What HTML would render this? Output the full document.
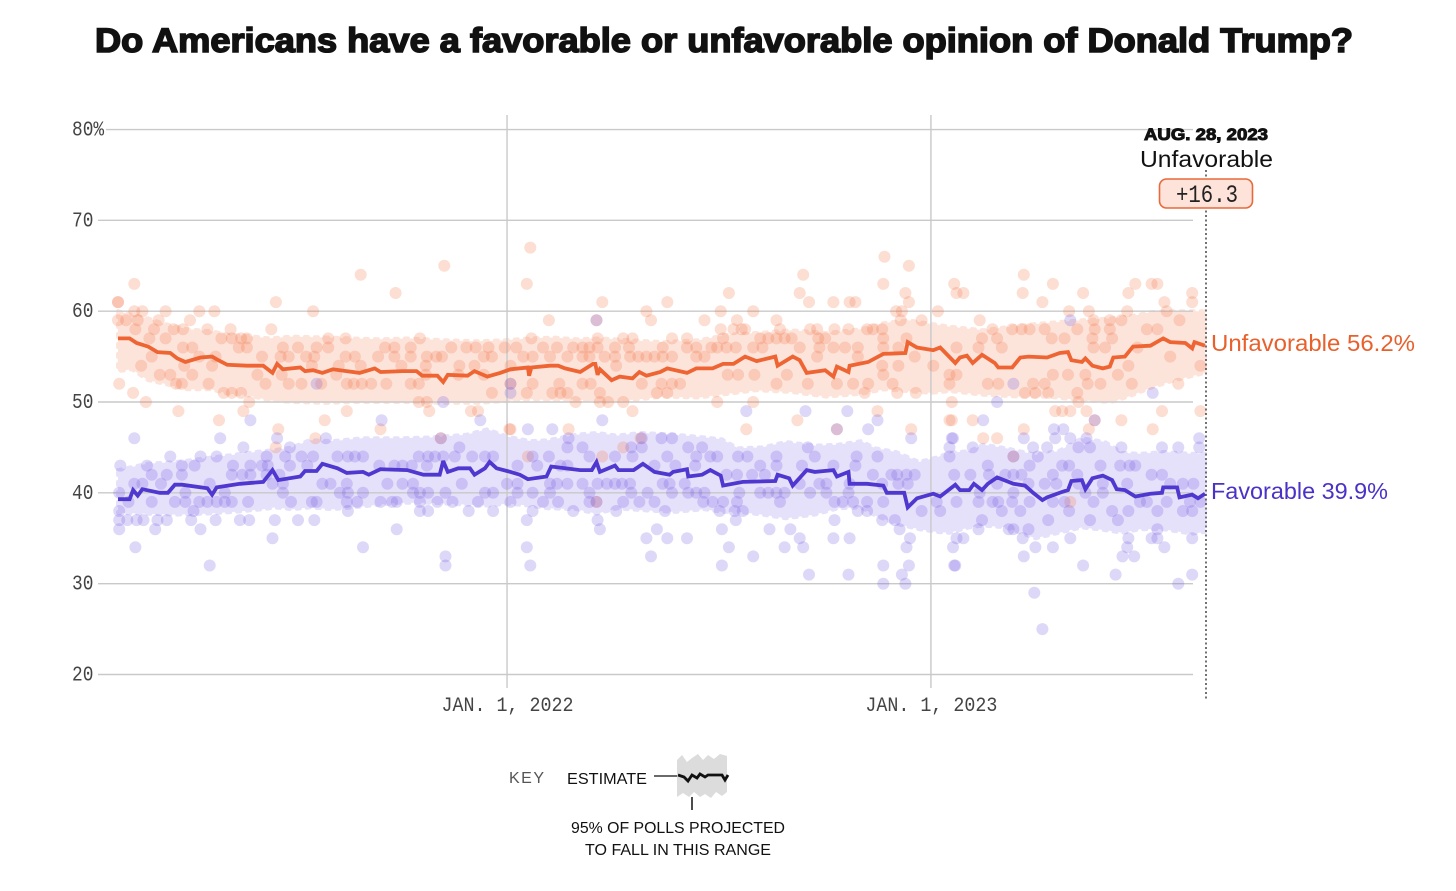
<!DOCTYPE html>
<html lang="en">
<head>
<meta charset="utf-8">
<title>Trump favorability chart</title>
<style>
html,body{margin:0;padding:0;background:#fff;}
#chart{display:block;width:1456px;height:891px;}
text{font-family:"Liberation Sans",sans-serif;}
.mono{font-family:"Liberation Mono",monospace;fill:#444;}
</style>
</head>
<body>
<svg id="chart" xmlns="http://www.w3.org/2000/svg" width="1456" height="891" viewBox="0 0 1456 891">
  <text x="95" y="52" font-size="34.5" font-weight="700" fill="#111" stroke="#111" stroke-width="1.6" textLength="1258" lengthAdjust="spacingAndGlyphs">Do Americans have a favorable or unfavorable opinion of Donald Trump?</text>
  <g id="bands"></g>
  <g id="grid"></g>
  <g id="dots"></g>
  <g id="lines"></g>
  <g id="axes"></g>

  <line x1="1206" y1="170" x2="1206" y2="700" stroke="#444" stroke-width="1.5" stroke-dasharray="2 2.5"/>
  <text x="1144" y="140" font-size="17" font-weight="700" fill="#111" stroke="#111" stroke-width="1" textLength="124" lengthAdjust="spacingAndGlyphs" paint-order="stroke">AUG. 28, 2023</text>
  <text x="1140" y="167" font-size="23" fill="#111" textLength="133" lengthAdjust="spacingAndGlyphs">Unfavorable</text>
  <rect x="1159.5" y="179" width="93" height="29" rx="7" fill="#fde3da" stroke="#e8693a" stroke-width="1.6"/>
  <text class="mono" x="1176" y="202" font-size="25" style="fill:#222" textLength="62" lengthAdjust="spacingAndGlyphs">+16.3</text>
  <text x="1211" y="351" font-size="23" fill="#e8602c" textLength="204" lengthAdjust="spacingAndGlyphs">Unfavorable 56.2%</text>
  <text x="1211" y="499" font-size="23" fill="#4a32c8" textLength="177" lengthAdjust="spacingAndGlyphs">Favorable 39.9%</text>

  <g>
    <text x="509" y="783" font-size="16" fill="#555" textLength="35" lengthAdjust="spacing">KEY</text>
    <text x="567" y="784" font-size="16" fill="#111" textLength="80" lengthAdjust="spacingAndGlyphs">ESTIMATE</text>
    <line x1="654" y1="776" x2="678" y2="776" stroke="#111" stroke-width="1.3"/>
    <polygon fill="#dcdcdc" points="677,760 682,755 687,762 692,758 698,754 703,760 708,755 714,759 720,754 727,756 727,792 722,796 716,792 711,798 705,794 700,797 694,792 689,797 683,793 677,797"/>
    <polyline fill="none" stroke="#111" stroke-width="2.8" points="678,775 684,777 688,781 692,775 697,778 700,774 705,777 708,775 722,775 725,780 728,775"/>
    <line x1="692" y1="797" x2="692" y2="810" stroke="#111" stroke-width="1.5"/>
    <text x="571" y="833" font-size="16" fill="#111" textLength="214" lengthAdjust="spacingAndGlyphs">95% OF POLLS PROJECTED</text>
    <text x="585" y="855" font-size="16" fill="#111" textLength="186" lengthAdjust="spacingAndGlyphs">TO FALL IN THIS RANGE</text>
  </g>
</svg>

<script>
// Days are counted from the first day of the series (about Feb. 1, 2021).
const yTickValues = [20, 30, 40, 50, 60, 70, 80];
const yTickLabels = ["20", "30", "40", "50", "60", "70", "80%"];
const xTickDays = [335, 700];
const xTickLabels = ["JAN. 1, 2022", "JAN. 1, 2023"];

const unfavLineDays = [0,10,16,26,34,45,51,58,71,81,85,94,111,125,133,137,142,157,161,168,176,185,208,221,226,245,257,262,275,280,284,301,307,318,329,338,353,354,356,372,379,385,398,409,411,413,415,425,432,443,449,455,467,473,490,498,512,521,530,540,550,566,568,581,587,593,609,616,619,629,630,646,659,678,680,688,702,708,721,725,731,736,744,755,758,770,777,784,800,811,818,821,830,833,839,848,854,857,867,874,889,900,906,919,925,927,936];
const unfavLineValues = [57,57,56.5,56.1,55.5,55.4,54.8,54.4,54.9,55,54.7,54.1,54,54,53.2,54.2,53.6,53.8,53.4,53.5,53.2,53.6,53.2,53.7,53.3,53.4,53.4,52.9,52.9,52.2,53,52.9,53.4,52.8,53.2,53.6,53.8,52.9,53.8,54,54,53.7,53.3,54.2,54.2,53,53.6,52.4,52.8,52.6,53.3,52.9,53.3,53.7,53.2,53.7,53.7,54.2,54.2,55,54.5,55,54,55,54.6,53.2,53.5,52.8,53.9,53.3,54,54.4,55.3,55.4,56.6,56,55.7,56,54.3,54.9,55.1,54.3,55.2,54.3,53.8,53.8,54.9,55,54.9,55.4,55.5,54.6,54.4,54.8,54,53.7,53.9,54.9,55,56.1,56.2,57,56.6,56.5,55.9,56.6,56.2];

const favLineDays = [0,10,13,17,21,36,43,49,55,77,81,85,105,125,133,138,157,161,171,176,189,197,211,216,226,249,263,277,280,284,293,303,307,316,320,326,338,346,353,369,373,398,408,412,415,428,431,444,452,462,475,478,490,491,503,510,519,521,538,566,568,578,581,593,600,616,619,629,630,645,659,662,677,680,688,702,708,721,725,733,737,744,749,757,771,781,788,796,800,813,818,821,830,833,839,848,856,860,867,876,889,899,900,912,914,925,930,936];
const favLineValues = [39.3,39.3,40.3,39.7,40.4,40,40,40.9,40.9,40.5,39.8,40.6,41,41.2,42.5,41.4,41.8,42.4,42.4,43.2,42.7,42.2,42.3,42,42.6,42.5,42,42,43.5,42.3,42.7,42.7,42,42.7,43.4,42.7,42.3,42,41.5,41.8,42.9,42.5,42.5,43.4,42.3,43,42.5,42.5,43.2,42.3,42,42.3,42.6,41.8,42,42.5,41.9,40.8,41.2,41.3,42,41.6,40.8,42.5,42.3,42.5,41.8,42.3,41,41,40.8,40,40,38.4,39.4,39.9,39.6,40.9,40.3,40.3,41,40.3,41,41.7,41,40.8,40,39.2,39.5,40.1,40.3,41.3,41.4,40.4,41.6,41.9,41.4,40.4,40.3,39.6,39.9,40,40.6,40.6,39.5,39.8,39.4,39.9];

const unfavBandDays = [0,12,26,40,60,80,95,110,130,150,180,200,225,250,280,310,333,355,375,395,415,440,470,500,525,550,580,610,640,660,680,700,716,745,775,800,830,855,870,890,910,936];
const unfavBandUpper = [60,59.6,59.2,58.6,58,57.8,57.4,57.3,57,57.2,57.1,57,56.9,57,56.8,56.7,56.8,57,57.1,56.9,57,56.8,56.6,56.8,57.4,57.6,57.9,57.6,58,58.7,59,58.6,58.3,57.9,58.4,58.7,59,59.2,59.4,59.9,60,60];
const unfavBandLower = [53.4,53.6,52.4,52,51.4,51.4,50.9,50.8,50.2,50,49.9,50,50,50,49.9,49.9,50.1,50.3,50.2,50.3,50,50.2,50.6,50.5,50.9,51.3,51.1,50.6,50.9,51.4,51.2,51,51.2,50.8,50.6,50.6,50.2,50,50.6,51.6,52.4,53.2];

const favBandDays = [0,25,50,75,100,125,135,150,165,185,210,240,270,300,318,335,355,370,395,412,430,450,480,505,520,534,555,575,600,620,640,652,670,690,705,716,733,745,765,790,810,830,850,865,880,900,925,936];
const favBandUpper = [42.5,43.2,43.4,43.8,44.2,44.6,44.7,45,45.8,45.7,46,46,46.1,46.4,47,46.2,45.7,45.8,46.4,46.6,46.3,46.6,46.4,46.1,45.9,44.9,45,45.6,45.2,45.3,45.7,44.9,44.5,43.4,43.9,44.4,44.6,45.3,44.9,44.2,44.6,46,45.6,44.4,44.3,44.5,44.3,44.3];
const favBandLower = [37.8,37.7,37.6,37.7,37.9,38.2,38.4,38.2,38.4,38.2,38.5,38.9,38.9,38.7,38.6,38.8,38.6,38.3,38.2,37.7,38.3,38.1,37.9,38.2,37.9,37.9,37.6,37.2,37.6,38.3,38.4,37.5,36.6,36,35.7,35.6,36.2,36.4,36.2,35,35.6,36.2,35.9,35.6,36,36,35.5,35.7];

const unfavPollDays = [
355,
660,
281,681,
209,590,780,
14,352,659,720,805,876,890,895,
239,526,587,678,722,728,779,831,870,925,
0,0,136,417,473,595,616,630,635,681,796,901,925,
14,21,41,70,83,168,455,519,547,670,675,706,819,836,869,903,
0,7,17,35,62,371,412,459,505,533,567,674,692,742,840,854,864,914,
15,31,48,56,77,97,132,519,530,537,540,570,596,602,617,629,645,650,658,753,770,778,785,798,826,841,854,886,895,
27,41,89,98,106,111,181,196,260,356,413,435,443,477,490,521,553,560,567,574,580,603,609,659,679,744,757,804,815,839,856,
56,64,104,111,142,155,171,181,230,238,252,287,300,308,319,333,343,366,378,392,400,406,413,428,440,469,490,498,511,516,524,532,547,555,587,604,616,626,637,659,672,722,741,761,840,850,878,
29,70,84,124,140,147,162,169,196,204,224,238,252,266,274,279,315,322,349,357,372,387,400,406,419,428,441,448,455,462,469,477,498,505,602,637,686,906,
20,57,81,167,190,209,244,265,294,307,338,429,658,672,702,870,932,
36,45,64,120,141,188,265,293,315,525,534,548,576,659,716,722,805,818,833,861,
1,50,55,78,127,147,158,175,197,203,210,218,231,252,259,338,357,380,400,407,451,468,477,484,567,594,619,633,646,667,716,749,758,788,798,835,846,873,913,
13,91,98,106,322,352,374,381,387,415,464,473,643,671,687,781,790,801,826,
24,113,259,266,394,415,422,435,516,547,718,827,
52,108,197,268,304,310,443,654,807,813,820,834,899,932,
87,178,585,716,736,718,841,864,
138,226,337,338,388,541,619,683,780,836,891,
170,278,450,745,757,
136,435,
353,417,771,
412,820
];
const unfavPollValues = [
67,
66,
65,65,
64,64,64,
63,63,63,63,63,63,63,63,
62,62,62,62,62,62,62,62,62,62,
61,61,61,61,61,61,61,61,61,61,61,61,61,
60,60,60,60,60,60,60,60,60,60,60,60,60,60,60,60,
59,59,59,59,59,59,59,59,59,59,59,59,59,59,59,59,59,59,
58,58,58,58,58,58,58,58,58,58,58,58,58,58,58,58,58,58,58,58,58,58,58,58,58,58,58,58,58,
57,57,57,57,57,57,57,57,57,57,57,57,57,57,57,57,57,57,57,57,57,57,57,57,57,57,57,57,57,57,57,
56,56,56,56,56,56,56,56,56,56,56,56,56,56,56,56,56,56,56,56,56,56,56,56,56,56,56,56,56,56,56,56,56,56,56,56,56,56,56,56,56,56,56,56,56,56,56,
55,55,55,55,55,55,55,55,55,55,55,55,55,55,55,55,55,55,55,55,55,55,55,55,55,55,55,55,55,55,55,55,55,55,55,55,55,55,
54,54,54,54,54,54,54,54,54,54,54,54,54,54,54,54,54,
53,53,53,53,53,53,53,53,53,53,53,53,53,53,53,53,53,53,53,53,
52,52,52,52,52,52,52,52,52,52,52,52,52,52,52,52,52,52,52,52,52,52,52,52,52,52,52,52,52,52,52,52,52,52,52,52,52,52,52,
51,51,51,51,51,51,51,51,51,51,51,51,51,51,51,51,51,51,51,
50,50,50,50,50,50,50,50,50,50,50,50,
49,49,49,49,49,49,49,49,49,49,49,49,49,49,
48,48,48,48,48,48,48,48,
47,47,47,47,47,47,47,47,47,47,47,
46,46,46,46,46,
45,45,
44,44,44,
39,39
];

const favPollDays = [
412,820,
171,338,771,
338,891,
280,757,
541,592,628,
114,227,312,417,654,745,841,
353,374,619,646,806,814,
14,88,137,179,278,388,451,468,477,683,718,719,780,807,820,834,931,
108,148,294,387,400,442,451,491,503,594,716,736,788,800,827,837,864,899,913,931,
45,71,85,128,144,158,168,189,198,204,211,259,267,273,280,290,305,316,323,357,371,406,428,443,473,498,510,516,534,542,567,600,636,654,716,771,792,
2,25,55,66,99,114,124,129,148,163,225,238,245,253,266,344,361,381,387,462,480,497,553,567,589,616,635,749,785,813,819,846,863,871,876,
29,42,55,98,107,114,128,139,524,533,546,557,650,666,671,679,686,720,734,750,764,771,778,805,826,890,899,
14,21,37,79,133,142,176,183,197,232,245,254,296,335,344,372,378,387,400,413,421,428,434,441,469,475,488,587,604,610,630,658,672,680,757,784,798,808,827,848,869,906,917,926,
1,58,92,142,191,198,211,254,260,267,282,316,323,344,357,372,406,442,456,477,491,498,505,535,553,560,567,574,596,610,629,742,771,833,848,
9,29,49,58,70,77,85,92,98,112,149,167,171,197,206,226,236,240,260,275,288,310,338,366,379,406,412,435,449,462,504,512,521,533,570,617,624,633,645,659,705,722,741,753,758,770,785,805,815,840,880,886,903,923,932,
1,65,198,260,267,302,323,357,392,429,471,518,531,538,637,645,692,708,761,777,819,856,870,895,917,925,
1,8,16,22,34,42,63,84,105,113,135,155,169,352,413,532,617,658,669,744,801,837,861,
1,32,71,240,415,464,520,561,579,673,741,767,771,784,895,
133,455,473,490,587,616,630,682,722,728,779,820,870,890,895,925,
15,211,352,526,574,590,679,719,790,805,869,901,
282,459,547,780,865,875,
79,282,355,520,659,681,720,721,831,
595,629,675,859,925,
659,678,913,
789,
796
];
const favPollValues = [
59,59,
52,52,52,
51,51,
50,50,
49,49,49,
48,48,48,48,48,48,48,
47,47,47,47,47,47,
46,46,46,46,46,46,46,46,46,46,46,46,46,46,46,46,46,
45,45,45,45,45,45,45,45,45,45,45,45,45,45,45,45,45,45,45,45,
44,44,44,44,44,44,44,44,44,44,44,44,44,44,44,44,44,44,44,44,44,44,44,44,44,44,44,44,44,44,44,44,44,44,44,44,44,
43,43,43,43,43,43,43,43,43,43,43,43,43,43,43,43,43,43,43,43,43,43,43,43,43,43,43,43,43,43,43,43,43,43,43,
42,42,42,42,42,42,42,42,42,42,42,42,42,42,42,42,42,42,42,42,42,42,42,42,42,42,42,
41,41,41,41,41,41,41,41,41,41,41,41,41,41,41,41,41,41,41,41,41,41,41,41,41,41,41,41,41,41,41,41,41,41,41,41,41,41,41,41,41,41,41,41,
40,40,40,40,40,40,40,40,40,40,40,40,40,40,40,40,40,40,40,40,40,40,40,40,40,40,40,40,40,40,40,40,40,40,40,
39,39,39,39,39,39,39,39,39,39,39,39,39,39,39,39,39,39,39,39,39,39,39,39,39,39,39,39,39,39,39,39,39,39,39,39,39,39,39,39,39,39,39,39,39,39,39,39,39,39,39,39,39,39,39,
38,38,38,38,38,38,38,38,38,38,38,38,38,38,38,38,38,38,38,38,38,38,38,38,38,38,
37,37,37,37,37,37,37,37,37,37,37,37,37,37,37,37,37,37,37,37,37,37,37,
36,36,36,36,36,36,36,36,36,36,36,36,36,36,36,
35,35,35,35,35,35,35,35,35,35,35,35,35,35,35,35,
34,34,34,34,34,34,34,34,34,34,34,34,
33,33,33,33,33,33,
32,32,32,32,32,32,32,32,32,
31,31,31,31,31,
30,30,30,
29,
25
];

const SVG_NS = "http://www.w3.org/2000/svg";
function xScale(day) { return 118 + day * (1205 - 118) / 936; }
function yScale(value) { return 674.5 - (value - 20) * 9.083; }
function make(tag, parent, props) {
  const el = document.createElementNS(SVG_NS, tag);
  for (const key in props) el.setAttribute(key, props[key]);
  parent.appendChild(el);
  return el;
}

const bandsGroup = document.getElementById("bands");
function drawBand(days, upper, lower, fill, name) {
  const top = days.map((d, i) => xScale(d).toFixed(1) + "," + yScale(upper[i]).toFixed(1));
  const bottom = days.map((d, i) => xScale(d).toFixed(1) + "," + yScale(lower[i]).toFixed(1)).reverse();
  const el = make("polygon", bandsGroup, { points: top.concat(bottom).join(" "), fill: fill, "stroke-linejoin": "round", "stroke-linecap": "round", stroke: fill, "stroke-width": 4, "stroke-dasharray": "3 7" });
  
  
}
drawBand(unfavBandDays, unfavBandUpper, unfavBandLower, "#fde4db", "unfavorable-range-band");
drawBand(favBandDays, favBandUpper, favBandLower, "#e6e1fb", "favorable-range-band");

const gridGroup = document.getElementById("grid");
const axesGroup = document.getElementById("axes");
yTickValues.forEach((v, i) => {
  const y = yScale(v);
  const rule = make("line", gridGroup, { x1: i === yTickValues.length - 1 ? 106 : 98, y1: y, x2: 1193, y2: y, stroke: "#c9c9c9", "stroke-width": 1.4 });
  
  
  const label = make("text", axesGroup, { class: "mono", x: 72, y: y + 6, "font-size": 21, textLength: yTickLabels[i].length * 10.7, lengthAdjust: "spacingAndGlyphs" });
  label.textContent = yTickLabels[i];
  
  
});
xTickDays.forEach((d, i) => {
  const x = xScale(d);
  const rule = make("line", gridGroup, { x1: x, y1: 115, x2: x, y2: 688, stroke: "#c9c9c9", "stroke-width": 1.4 });
  
  
  const label = make("text", axesGroup, { class: "mono", x: x - 65.5, y: 711, "font-size": 20.5, textLength: 132, lengthAdjust: "spacingAndGlyphs" });
  label.textContent = xTickLabels[i];
  
  
});

const dotsGroup = document.getElementById("dots");
function drawDots(days, values, fill, opacity, name) {
  days.forEach((d, i) => {
    const dot = make("circle", dotsGroup, { cx: xScale(d).toFixed(1), cy: yScale(values[i]).toFixed(1), r: 6, fill: fill, "fill-opacity": opacity });
    
    
  });
}
drawDots(unfavPollDays, unfavPollValues, "#f26f42", 0.23, "unfavorable-poll-dot");
drawDots(favPollDays, favPollValues, "#6a4fe0", 0.22, "favorable-poll-dot");

const linesGroup = document.getElementById("lines");
function drawLine(days, values, stroke, name) {
  const pts = days.map((d, i) => xScale(d).toFixed(1) + "," + yScale(values[i]).toFixed(1)).join(" ");
  const el = make("polyline", linesGroup, { points: pts, fill: "none", stroke: stroke, "stroke-width": 3.8, "stroke-linejoin": "miter", "stroke-miterlimit": 3 });
  
  
}
drawLine(unfavLineDays, unfavLineValues, "#ee6533", "unfavorable-estimate-line");
drawLine(favLineDays, favLineValues, "#4f38d0", "favorable-estimate-line");
</script>
</body>
</html>
